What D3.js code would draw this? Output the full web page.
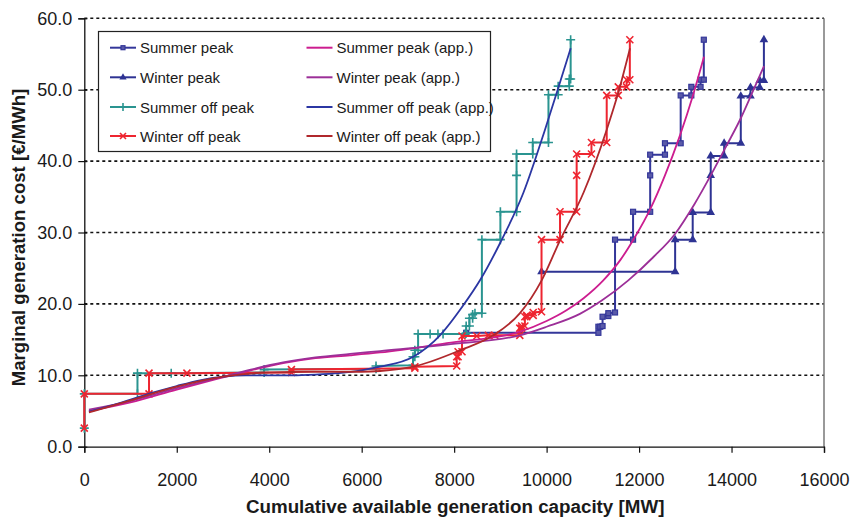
<!DOCTYPE html>
<html>
<head>
<meta charset="utf-8">
<script src="https://cdn.jsdelivr.net/npm/d3@7/dist/d3.min.js"></script>
<style>
  html, body { margin: 0; padding: 0; background: #fff; }
  svg { display: block; }
  text { font-family: "Liberation Sans", Arial, sans-serif; fill: #1a1a1a; }
</style>
</head>
<body>
<svg id="chart" width="854" height="522"></svg>
<script>
// Axis ticks
const xTicks = [0, 2000, 4000, 6000, 8000, 10000, 12000, 14000, 16000];
const yTicks = [0, 10, 20, 30, 40, 50, 60];

// Merit-order step curves: [cumulative capacity MW, marginal cost €/MWh]
const summerPeak = [
  [8260, 15.95], [11120, 15.95], [11120, 16.8], [11160, 16.8], [11210, 16.9], [11210, 18.2],
  [11335, 18.3], [11335, 18.7], [11480, 18.8], [11480, 29.0], [11870, 29.0], [11870, 32.9],
  [12240, 32.9], [12240, 38.0], [12240, 40.9], [12560, 40.9], [12560, 42.5], [12900, 42.5],
  [12900, 49.2], [13130, 49.2], [13130, 50.4], [13330, 50.4], [13330, 51.4], [13400, 51.4],
  [13400, 57.0]
];
const winterPeak = [
  [9890, 24.5], [12780, 24.5], [12780, 29.0], [13160, 29.0], [13160, 32.8], [13550, 32.8],
  [13550, 38.0], [13550, 40.7], [13840, 40.7], [13840, 42.5], [14200, 42.5], [14200, 49.1],
  [14410, 49.1], [14410, 50.3], [14610, 50.3], [14610, 51.3], [14700, 51.3], [14700, 57.0]
];
const summerOffPeak = [
  [0, 2.6], [0, 7.4], [1150, 7.4], [1150, 10.3], [1880, 10.3], [3890, 10.4], [3890, 10.8],
  [6310, 10.9], [6310, 11.3], [7110, 11.4], [7110, 12.6], [7150, 12.6], [7150, 13.5],
  [7220, 13.5], [7220, 15.8], [7480, 15.8], [7650, 15.8], [7760, 15.8], [8240, 15.8],
  [8260, 15.9], [8260, 16.9], [8330, 16.9], [8330, 18.0], [8400, 18.0], [8400, 18.5],
  [8450, 18.7], [8600, 18.7], [8600, 29.0], [9000, 29.0], [9000, 32.9], [9350, 32.9],
  [9350, 38.0], [9350, 41.0], [9700, 41.0], [9700, 42.6], [10040, 42.6], [10040, 49.3],
  [10250, 49.3], [10250, 50.5], [10490, 50.5], [10490, 51.5], [10520, 51.5], [10520, 57.0]
];
const winterOffPeak = [
  [0, 2.6], [0, 7.4], [1400, 7.4], [1400, 10.3], [2220, 10.3], [4480, 10.4], [4480, 10.8],
  [7150, 11.0], [7150, 11.2], [8055, 11.3], [8055, 12.6], [8085, 12.6], [8085, 13.3],
  [8170, 13.3], [8170, 15.5], [8490, 15.5], [8740, 15.6], [8880, 15.6], [9420, 15.6],
  [9420, 16.6], [9460, 16.6], [9460, 16.9], [9530, 16.9], [9530, 18.2], [9570, 18.2],
  [9570, 18.4], [9710, 18.4], [9710, 18.8], [9890, 18.9], [9890, 29.0], [10290, 29.0],
  [10290, 32.9], [10650, 32.9], [10650, 38.0], [10650, 41.0], [10970, 41.0], [10970, 42.6],
  [11300, 42.6], [11300, 49.2], [11550, 49.2], [11550, 50.4], [11730, 50.4], [11730, 51.4],
  [11800, 51.4], [11800, 57.0]
];

// Fitted approximations of each curve
const summerPeakApp = [
  [100, 5.0], [1000, 6.2], [2000, 8.0], [3000, 9.7], [3600, 10.7], [4300, 11.7], [5000, 12.4],
  [5750, 12.8], [6400, 13.2], [7840, 14.5], [9420, 16.1], [10000, 17.6], [10430, 19.1],
  [10800, 20.8], [11226, 23.3], [11600, 26.2], [11905, 29.3], [12236, 33.2], [12560, 38.0],
  [12885, 43.6], [13170, 49.3], [13404, 54.6]
];
const winterPeakApp = [
  [100, 5.2], [1000, 6.4], [2000, 8.2], [3000, 9.8], [3600, 10.8], [4300, 11.8], [5000, 12.5],
  [5750, 13.0], [6400, 13.4], [7840, 14.3], [9420, 15.6], [10000, 16.8], [10720, 18.6],
  [11200, 20.5], [11767, 23.3], [12300, 26.5], [12777, 29.8], [13200, 34.0], [13550, 38.0],
  [13895, 42.2], [14200, 46.0], [14436, 49.4], [14702, 53.3]
];
const summerOffPeakApp = [
  [100, 4.9], [500, 5.6], [1000, 6.6], [1500, 7.6], [2000, 8.5], [2500, 9.3], [3000, 9.8],
  [3500, 10.0], [4000, 10.0], [4500, 10.0], [5000, 10.1], [5500, 10.3], [6000, 10.7],
  [6400, 11.2], [7116, 12.6], [7694, 15.6], [8198, 19.8], [8559, 23.3], [9000, 28.6],
  [9500, 35.6], [9965, 44.4], [10250, 50.2], [10521, 55.8]
];
const winterOffPeakApp = [
  [100, 4.8], [1000, 6.5], [2000, 8.4], [3000, 9.8], [4000, 10.4], [5000, 10.5], [6000, 10.5],
  [6400, 10.6], [7116, 11.2], [8127, 13.5], [8846, 15.6], [9424, 18.7], [9893, 23.3],
  [10290, 28.9], [10800, 35.6], [11300, 44.4], [11551, 49.6], [11804, 55.8]
];

const seriesNames = [
  "Summer peak", "Winter peak", "Summer off peak", "Winter off peak",
  "Summer peak (app.)", "Winter peak (app.)", "Summer off peak (app.)", "Winter off peak (app.)"
];

const svg = d3.select("#chart");
const margin = { left: 84.3, right: 824, top: 18.3, bottom: 446.7 };

const x = d3.scaleLinear().domain([0, 16000]).range([margin.left, margin.right]);
const y = d3.scaleLinear().domain([0, 60]).range([margin.bottom, margin.top]);

// Horizontal dotted gridlines
svg.append("g").selectAll("line")
  .data(yTicks.filter(d => d > 0))
  .join("line")
  .attr("x1", margin.left).attr("x2", margin.right)
  .attr("y1", d => y(d)).attr("y2", d => y(d))
  .attr("stroke", "#111").attr("stroke-width", 1.6)
  .attr("stroke-dasharray", "3,3");

// Right frame
svg.append("line")
  .attr("x1", margin.right).attr("x2", margin.right)
  .attr("y1", margin.top).attr("y2", margin.bottom)
  .attr("stroke", "#777").attr("stroke-width", 1.5);

// Axes
const yAxis = d3.axisLeft(y).tickValues(yTicks).tickFormat(d3.format(".1f")).tickSize(6).tickPadding(6);
const xAxis = d3.axisBottom(x).tickValues(xTicks).tickFormat(d3.format("d")).tickSize(6).tickPadding(21);

const gy = svg.append("g").attr("transform", `translate(${margin.left},0)`).call(yAxis);
const gx = svg.append("g").attr("transform", `translate(0,${margin.bottom})`).call(xAxis);
[gx, gy].forEach(g => {
  g.select(".domain").attr("stroke", "#111").attr("stroke-width", 1.3);
  g.selectAll(".tick line").attr("stroke", "#111").attr("stroke-width", 1.2);
  g.selectAll(".tick text").attr("font-size", 18).attr("fill", "#1a1a1a")
    .attr("font-family", "'Liberation Sans', Arial, sans-serif");
});
// y ticks cross the axis slightly
gy.selectAll(".tick").append("line").attr("x1", 0).attr("x2", 3).attr("stroke", "#111").attr("stroke-width", 1.2);

// Axis titles
svg.append("text")
  .attr("x", (margin.left + margin.right) / 2 + 1).attr("y", 513)
  .attr("text-anchor", "middle").attr("font-size", 18.8).attr("font-weight", "bold")
  .text("Cumulative available generation capacity [MW]");
svg.append("text")
  .attr("transform", `translate(25,${(margin.top + margin.bottom) / 2 + 5}) rotate(-90)`)
  .attr("text-anchor", "middle").attr("font-size", 18.6).attr("font-weight", "bold")
  .text("Marginal generation cost [€/MWh]");

const line = d3.line().x(d => x(d[0])).y(d => y(d[1]));
const smooth = d3.line().x(d => x(d[0])).y(d => y(d[1])).curve(d3.curveMonotoneX);

// Marker shapes
function drawMarker(g, kind, color, size) {
  const s = size;
  if (kind === "square") {
    g.append("rect").attr("x", -s / 2).attr("y", -s / 2).attr("width", s).attr("height", s)
      .attr("fill", "#5a5aa8").attr("stroke", color).attr("stroke-width", 1.2);
  } else if (kind === "triangle") {
    g.append("path").attr("d", d3.symbol(d3.symbolTriangle, s * s * 0.9)())
      .attr("fill", color);
  } else if (kind === "plus") {
    g.append("path").attr("d", `M${-s / 2},0H${s / 2}M0,${-s / 2}V${s / 2}`)
      .attr("stroke", color).attr("stroke-width", 1.6);
  } else if (kind === "cross") {
    g.append("path").attr("d", `M${-s / 2},${-s / 2}L${s / 2},${s / 2}M${-s / 2},${s / 2}L${s / 2},${-s / 2}`)
      .attr("stroke", color).attr("stroke-width", 1.6);
  }
}

const stepSeries = [
  { data: summerPeak, color: "#34379a", marker: "square", size: 5 },
  { data: winterPeak, color: "#2e3393", marker: "triangle", size: 6 },
  { data: summerOffPeak, color: "#2a9490", marker: "plus", size: 9 },
  { data: winterOffPeak, color: "#ee2530", marker: "cross", size: 7 }
];
const appSeries = [
  { data: summerPeakApp, color: "#cc1d8f" },
  { data: winterPeakApp, color: "#9c2f98" },
  { data: summerOffPeakApp, color: "#2b36a3" },
  { data: winterOffPeakApp, color: "#b0282c" }
];

stepSeries.forEach(s => {
  svg.append("path").datum(s.data).attr("d", line)
    .attr("fill", "none").attr("stroke", s.color).attr("stroke-width", 2)
    .attr("stroke-linejoin", "miter");
  const mg = svg.append("g");
  s.data.forEach(p => {
    const g = mg.append("g").attr("transform", `translate(${x(p[0])},${y(p[1])})`);
    drawMarker(g, s.marker, s.color, s.size);
  });
});

appSeries.forEach(s => {
  svg.append("path").datum(s.data).attr("d", smooth)
    .attr("fill", "none").attr("stroke", s.color).attr("stroke-width", 1.8);
});

// Legend
const legend = svg.append("g");
legend.append("rect").attr("x", 98.5).attr("y", 31.5).attr("width", 392).attr("height", 120)
  .attr("fill", "#fff").attr("stroke", "#222").attr("stroke-width", 1.2);
const rowsY = [47.7, 77.3, 107, 136];
const legendItems = [
  ...stepSeries.map((s, i) => ({ name: seriesNames[i], color: s.color, marker: s.marker, size: s.size, col: 0, row: i })),
  ...appSeries.map((s, i) => ({ name: seriesNames[i + 4], color: s.color, marker: null, col: 1, row: i }))
];
legendItems.forEach(it => {
  const x0 = it.col === 0 ? 110 : 306.5;
  const yy = rowsY[it.row];
  legend.append("line").attr("x1", x0).attr("x2", x0 + 26).attr("y1", yy).attr("y2", yy)
    .attr("stroke", it.color).attr("stroke-width", 2);
  if (it.marker) {
    const g = legend.append("g").attr("transform", `translate(${x0 + 13},${yy})`);
    drawMarker(g, it.marker, it.color, it.marker === "square" ? 4 : it.size - 1);
  }
  legend.append("text").attr("x", x0 + 30).attr("y", yy + 5.5)
    .attr("font-size", 15).text(it.name);
});
</script>
</body>
</html>
